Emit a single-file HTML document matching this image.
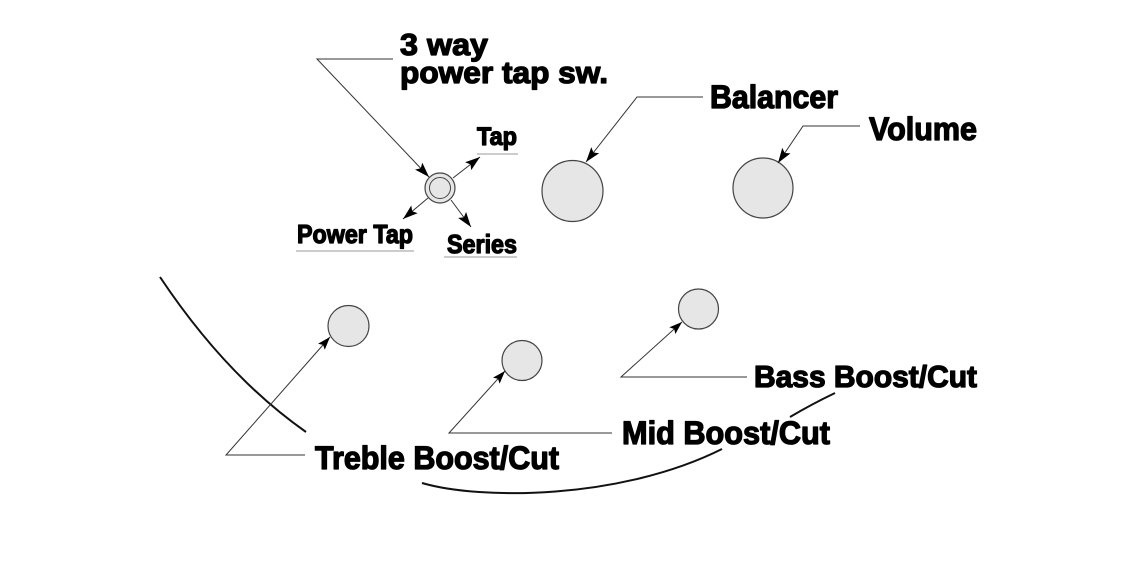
<!DOCTYPE html>
<html><head><meta charset="utf-8"><style>
html,body{margin:0;padding:0;background:#fff;}
svg{display:block;}
text{font-family:"Liberation Sans",Arial,sans-serif;font-weight:bold;fill:#000;stroke:#000;stroke-width:1.3;stroke-linejoin:round;}
</style></head><body>
<svg width="1140" height="570" viewBox="0 0 1140 570" xmlns="http://www.w3.org/2000/svg">
<defs>
<marker id="ah" viewBox="0 0 15 10" refX="15" refY="5" markerWidth="15" markerHeight="10" markerUnits="userSpaceOnUse" orient="auto">
<path d="M0,0 L15,5 L0,10 L3,5 z" fill="#000"/>
</marker>
<marker id="as" viewBox="0 0 13 9" refX="13" refY="4.5" markerWidth="13" markerHeight="9" markerUnits="userSpaceOnUse" orient="auto">
<path d="M0,0 L13,4.5 L0,9 L2.5,4.5 z" fill="#000"/>
</marker>
</defs>
<rect width="1140" height="570" fill="#fff"/>

<!-- body outline curves -->
<g fill="none" stroke="#111" stroke-width="2">
<path d="M160,277 Q226,376 306,432"/>
<path d="M422,483 C480,500 620,500 722,449"/>
<path d="M835,393 Q812,404 790,417"/>
</g>

<!-- knobs -->
<g fill="#e6e6e6" stroke="#444" stroke-width="1.2">
<circle cx="440" cy="188" r="15"/>
<circle cx="440" cy="188" r="10.5" stroke-width="1"/>
<circle cx="572.5" cy="191" r="30.5"/>
<circle cx="763" cy="188" r="30"/>
<circle cx="348.5" cy="326" r="20.5"/>
<circle cx="522" cy="360.5" r="20"/>
<circle cx="698.5" cy="309" r="20"/>
</g>

<!-- leaders -->
<g fill="none" stroke="#333" stroke-width="1">
<path d="M393,59 L317,59 L429,177" marker-end="url(#ah)"/>
<path d="M703,97 L637,97 L586,162" marker-end="url(#ah)"/>
<path d="M860,126 L803,126 L778,163" marker-end="url(#ah)"/>
<path d="M305,455 L226,455 L330,337" marker-end="url(#as)"/>
<path d="M612,433 L449,433 L505,371" marker-end="url(#as)"/>
<path d="M747,377 L621,377 L682,322" marker-end="url(#as)"/>
<path d="M453,178 L480,157" marker-end="url(#ah)"/>
<path d="M428,198 L403,219" marker-end="url(#ah)"/>
<path d="M451,200 L471,227" marker-end="url(#ah)"/>
</g>

<!-- underlines -->
<g stroke="#999" stroke-width="1">
<line x1="477" y1="154" x2="518" y2="154"/>
<line x1="296" y1="251" x2="414" y2="251"/>
<line x1="444" y1="257" x2="517" y2="257"/>
</g>

<!-- labels -->
<text x="400" y="55" font-size="31" textLength="88" lengthAdjust="spacingAndGlyphs">3 way</text>
<text x="400" y="83" font-size="31" textLength="208" lengthAdjust="spacingAndGlyphs">power tap sw.</text>
<text x="477" y="145" font-size="25" textLength="40" lengthAdjust="spacingAndGlyphs">Tap</text>
<text x="297" y="243" font-size="26" textLength="116" lengthAdjust="spacingAndGlyphs">Power Tap</text>
<text x="447" y="253" font-size="26" textLength="70" lengthAdjust="spacingAndGlyphs">Series</text>
<text x="710" y="108" font-size="32" textLength="128" lengthAdjust="spacingAndGlyphs">Balancer</text>
<text x="869" y="140" font-size="32" textLength="108" lengthAdjust="spacingAndGlyphs">Volume</text>
<text x="315" y="469" font-size="32" textLength="244" lengthAdjust="spacingAndGlyphs">Treble Boost/Cut</text>
<text x="622" y="444" font-size="32" textLength="208" lengthAdjust="spacingAndGlyphs">Mid Boost/Cut</text>
<text x="754" y="387" font-size="31" textLength="223" lengthAdjust="spacingAndGlyphs">Bass Boost/Cut</text>
</svg>
</body></html>
